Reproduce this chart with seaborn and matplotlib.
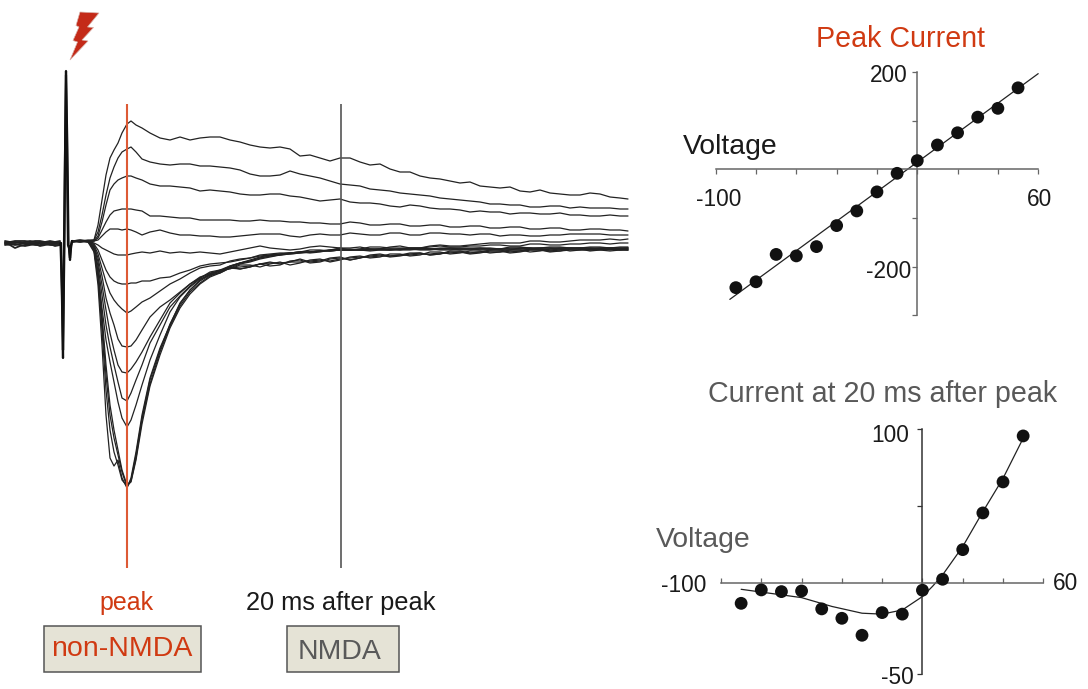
import numpy as np
import pandas as pd
import matplotlib
matplotlib.use("Agg")
import matplotlib.pyplot as plt
from matplotlib.patches import Polygon, Rectangle
import seaborn as sns

# ---- left panel: synaptic current traces (time in ms after stimulus, amplitude)
trace_time = [6,14,22, 28,32,36,40,44,48,52,56,61,65, 70,76,84,94,104,114,124,134,
              144,154,164,174,184,194,204,214,224,234,
              244,254,264,274,284,294,304,314,324,334,
              344,354,364,374,384,394,404,414,424,434,
              444,454,464,474,484,494,504,514,524,534,
              544,554,562]
trace_a = [241,240,241, 240,225,200,175,158,150,143,133,124,121, 125,128,133,138,140,137,140,138,
           137,137,140,142,145,147,148,147,149,156, 155,158,161,158,158,162,165,164,169,172,
           172,176,178,179,181,183,182,186,187,188, 187,191,192,190,193,194,195,195,193,194, 197,198,199]
trace_b = [241,241,240, 240,232,215,195,178,167,158,152,149,147, 152,159,162,164,165,164,164,166,
           166,167,168,170,174,176,176,175,171,174, 176,178,181,184,185,186,189,190,191,193,
           194,195,196,198,199,200,201,202,204,204, 205,205,207,207,206,206,208,207,208,208, 208,209,209]
trace_c = [241,242,241, 241,236,222,205,190,184,180,178,176,176, 178,180,184,186,186,187,188,191,
           190,191,192,194,195,195,194,194,196,197, 199,201,200,199,202,203,203,204,206,207,
           205,206,208,209,209,210,212,211,212,212, 214,213,213,214,214,213,215,215,216,216, 215,216,216]
trace_d = [242,241,241, 241,238,230,222,215,211,210,209,209,209, 210,211,216,216,217,218,218,220,
           220,220,220,221,221,220,221,221,222,222, 223,223,224,224,222,223,225,225,224,224,
           226,226,225,225,227,227,226,226,228,228, 227,227,229,229,228,228,230,230,229,229, 230,230,231]
trace_e = [241,241,242, 241,240,236,232,229,229,229,230,229,230, 232,235,232,230,233,235,235,236,
           236,237,237,236,235,234,234,234,236,237, 235,234,235,235,233,234,235,235,233,233,
           235,235,233,233,234,234,235,234,234,236, 235,235,236,236,235,235,234,234,234,234, 235,235,235]
trace_f = [241,242,241, 243,245,248,250,252,254,255,255,255,254, 253,252,253,251,253,252,253,252,
           253,254,252,250,248,246,248,249,250,249, 247,246,247,248,248,247,249,249,247,246,
           248,248,246,245,246,246,245,244,243,243, 243,243,241,241,242,242,241,240,240,240, 239,240,239]
trace_g = [241,241,241, 244,250,260,270,277,281,283,284,284,283, 283,281,281,278,277,273,270,266,
           264,263,262,260,258,256,255,254,253,252, 253,252,250,248,250,249,247,247,248,248,
           248,248,247,246,247,247,246,246,245,245, 246,246,244,244,245,245,244,244,243,243, 244,243,243]
trace_h = [242,241,241, 245,254,268,282,293,300,305,309,313,311, 307,302,298,291,284,279,273,268,
           266,265,261,259,258,255,254,253,253,252, 250,250,251,250,250,250,249,249,250,250,
           248,248,249,249,248,248,248,248,249,249, 247,247,248,248,247,247,248,248,247,247, 248,247,247]
trace_i = [241,241,242, 246,258,276,298,313,325,339,346,347,346, 340,330,317,307,300,292,284,278,
           273,271,268,267,266,264,263,263,262,262, 261,260,261,259,258,257,257,256,256,255,
           255,254,254,253,253,252,253,252,252,252, 251,251,250,250,251,251,250,250,250,250, 251,250,250]
trace_j = [241,242,241, 247,262,285,310,333,350,365,372,373,369, 362,352,337,320,303,293,284,277,
           274,271,267,269,267,264,266,265,261,260, 263,262,259,258,260,258,256,255,257,256,
           254,253,255,254,252,252,254,253,251,251, 253,252,250,250,252,251,249,249,251,250, 249,250,249]
trace_k = [242,241,241, 248,266,295,325,347,365,382,398,401,393, 380,365,343,325,307,296,286,278,
           272,270,269,265,265,267,264,262,265,263, 260,259,262,260,257,256,258,257,254,254,
           256,255,252,252,254,253,251,251,253,252, 250,250,252,251,249,249,251,250,249,249, 250,249,250]
trace_l = [241,241,241, 249,272,308,340,362,382,402,418,427,420, 405,385,360,335,312,297,287,279,
           275,273,268,269,267,264,262,264,262,259, 262,261,258,257,260,258,255,254,256,255,
           253,253,255,254,251,251,253,252,250,250, 252,251,249,249,251,250,248,248,250,249, 248,249,248]
trace_m = [241,241,242, 252,285,345,415,458,466,460,478,488,478, 452,415,378,348,325,303,290,280,
           274,270,266,263,260,257,255,254,253,252, 252,251,251,250,250,250,250,249,249,249,
           249,249,249,249,249,249,249,249,249,249, 248,248,248,248,248,248,248,248,248,248, 248,248,248]
trace_n = [241,240,241, 250,278,330,390,430,452,465,480,486,480, 455,418,380,350,324,304,290,281,
           275,271,266,263,261,258,256,255,254,253, 252,251,251,250,250,249,249,250,250,249,
           249,249,249,248,248,249,249,250,250,249, 249,249,249,248,248,249,249,248,248,249, 249,249,249]
trace_o = [242,241,241, 250,275,322,375,415,438,455,472,487,481, 458,420,384,352,326,306,292,283,
           276,272,267,263,261,258,256,255,253,252, 252,251,250,249,249,250,250,249,249,250,
           250,249,249,250,250,249,249,248,248,249, 249,249,249,249,249,248,248,249,249,248, 248,248,248]
trace_p = [241,241,241, 249,272,315,365,405,430,450,470,485,482, 460,424,386,355,328,308,294,284,
           277,273,268,264,262,259,257,255,254,253, 252,251,250,250,250,250,251,250,250,249,
           249,250,250,249,249,250,250,249,249,250, 250,248,248,250,250,249,249,249,249,249, 249,250,250]
all_traces = [trace_a, trace_b, trace_c, trace_d, trace_e, trace_f, trace_g, trace_h,
              trace_i, trace_j, trace_k, trace_l, trace_m, trace_n, trace_o, trace_p]

pre_time = [-61,-56,-51,-46,-41,-36,-31,-26,-21,-16,-11,-6]
pre_1 = [242,243,242,243,242,241,242,243,242,243,242,243]
pre_2 = [243,244,245,244,243,243,244,243,244,244,243,244]
pre_3 = [244,245,248,246,245,244,245,245,244,245,245,245]
pre_4 = [241,242,241,241,241,242,241,241,242,241,242,241]
pre_5 = [245,244,244,245,246,245,244,246,245,244,246,245]
pre_6 = [243,242,243,242,244,243,243,242,243,242,244,242]

artifact_time_1 = [-5,-4,-3,-2,-1,0,1,2,3,4,5,6]
artifact_1 = [243,300,358,245,160,71,160,245,248,260,248,241]
artifact_time_2 = [-5.5,-4,-3,-1.6,-0.9,0,1.4,2.5,3.2,4,4.6,6]
artifact_2 = [243,290,350,245,150,75,150,245,248,258,247,241]

# ---- right panels
voltage = [-90,-80,-70,-60,-50,-40,-30,-20,-10,0,10,20,30,40,50]
peak_current = [-242,-230,-174,-177,-158,-115,-85,-46,-8,18,50,75,107,125,167]
peak_fit_v = [-93,60]
peak_fit_i = [-266,196]
late_current = [-13,-4.3,-5.4,-5,-16.6,-22.7,-33.7,-19,-20,-4.5,2.6,21.8,45.6,65.7,95.5]
late_fit_v = [-90,-60,-45,-30,-20,-10,0,5,10,20,30,40,50]
late_fit_i = [-3.9,-9.3,-15,-19.4,-20,-17.3,-8.6,-2,5.4,23.8,46.4,68,94]

sns.set_theme(style="white")
plt.rcParams["font.family"] = ["Liberation Sans", "DejaVu Sans"]

W, H = 1088, 689
fig = plt.figure(figsize=(W / 100, H / 100), dpi=100, facecolor="white")
RED = "#D03A12"
GREY = "#595959"
INK = "#1a1a1a"


def fx(x):
    return x / W


def fy(y):
    return 1 - y / H


def label(x, y, s, size, color=INK, ha="center"):
    fig.text(fx(x), fy(y + 2), s, fontsize=size, color=color, ha=ha, va="center")


def axes_px(left, right, top, bottom):
    return fig.add_axes([fx(left), fy(bottom), fx(right - left), (bottom - top) / H])


# traces
ax = fig.add_axes([0, 0, 1, 1])
ax.set_xlim(-66, W - 66)
ax.set_ylim(H, 0)
ax.axis("off")
ax.patch.set_alpha(0)

df = pd.DataFrame(
    [(n, t, v) for n, tr in enumerate(all_traces) for t, v in zip(trace_time, tr)],
    columns=["trace", "time", "amp"],
)
sns.lineplot(data=df, x="time", y="amp", units="trace", estimator=None,
             color="#222222", lw=0.9, ax=ax, legend=False)
for pre in [pre_1, pre_2, pre_3, pre_4, pre_5, pre_6]:
    sns.lineplot(x=pre_time, y=pre, color="#222222", lw=1.3, ax=ax, estimator=None, sort=False)
sns.lineplot(x=artifact_time_1, y=artifact_1, color="#111111", lw=1.6, ax=ax, estimator=None, sort=False)
sns.lineplot(x=artifact_time_2, y=artifact_2, color="#111111", lw=1.6, ax=ax, estimator=None, sort=False)
ax.vlines(61, 104, 568, color="#DD5A35", lw=1.5, zorder=4)
ax.vlines(275, 104, 568, color="#555555", lw=1.2, zorder=4)
ax.set_xlim(-66, W - 66)
ax.set_ylim(H, 0)

# lightning bolt
bolt = [(80, 12), (99, 13), (87.5, 27), (93.5, 27.5), (82, 40), (88, 41), (70, 60),
        (77.5, 42), (73, 40.5), (79, 27), (76, 25.5)]
fig.add_artist(Polygon([(fx(a), fy(b)) for a, b in bolt], closed=True, transform=fig.transFigure,
                       facecolor="#C42A18", edgecolor="#D8B0A8", lw=0.5))

# labels and boxes under the traces
label(127, 601, "peak", 18, RED)
label(341, 601, "20 ms after peak", 18.3, INK)
for left, right in [(43.5, 200.5), (286.5, 398.5)]:
    fig.add_artist(Rectangle((fx(left), fy(671.5)), fx(right - left), (671.5 - 625.5) / H,
                             transform=fig.transFigure, facecolor="#E5E3D6", edgecolor="#555555", lw=1.1))
label(122, 647, "non-NMDA", 20.5, RED)
label(340, 650, "NMDA", 20.4, GREY)


def style_iv(a, color_x, color_y, x_dir, yticks):
    a.patch.set_alpha(0)
    for s in ["top", "right"]:
        a.spines[s].set_visible(False)
    a.spines["left"].set_position(("data", 0))
    a.spines["bottom"].set_position(("data", 0))
    a.spines["left"].set_color(color_y)
    a.spines["bottom"].set_color(color_x)
    a.spines["left"].set_linewidth(1.1)
    a.spines["bottom"].set_linewidth(1.1)
    a.set_xticks(range(-100, 61, 20))
    a.set_yticks(yticks)
    a.set_xticklabels([])
    a.set_yticklabels([])
    a.set_xlabel("")
    a.set_ylabel("")
    a.tick_params(axis="x", bottom=True, direction=x_dir, length=3.5, width=0.9, color=color_x)
    a.tick_params(axis="y", left=True, direction="out", length=3.5, width=0.9, color=color_y)


# peak current I-V
ax1 = axes_px(715.7, 1038.2, 71.7, 315)
sns.lineplot(x=peak_fit_v, y=peak_fit_i, color="#222222", lw=0.9, ax=ax1, clip_on=False)
sns.scatterplot(x=voltage, y=peak_current, color="#111111", s=85, edgecolor="none", ax=ax1,
                zorder=3, clip_on=False)
ax1.set_xlim(-100, 60)
ax1.set_ylim(-298, 200)
style_iv(ax1, "#666666", "#666666", "out", [-298, -200, -100, 100, 200])
label(900, 37, "Peak Current", 20.6, RED)
label(730, 145, "Voltage", 20.4, INK)
label(719, 197, "-100", 16.3)
label(1040, 197, "60", 16.3)
label(908, 74, "200", 16.3, ha="right")
label(911, 269, "-200", 16.3, ha="right")

# late current I-V
ax2 = axes_px(721, 1043.3, 429, 674.3)
sns.lineplot(x=late_fit_v, y=late_fit_i, color="#222222", lw=0.9, ax=ax2, clip_on=False)
sns.scatterplot(x=voltage, y=late_current, color="#111111", s=85, edgecolor="none", ax=ax2,
                zorder=3, clip_on=False)
ax2.set_xlim(-100, 60)
ax2.set_ylim(-59, 100)
style_iv(ax2, "#666666", "#333333", "in", [-59, 50, 100])
label(883, 392, "Current at 20 ms after peak", 20.6, GREY)
label(703, 538, "Voltage", 20.4, GREY)
label(684, 583, "-100", 16.3)
label(1066, 582, "60", 16.3)
label(909, 434, "100", 16.3, ha="right")
label(914, 675.5, "-50", 16.3, ha="right")

fig.savefig("out.png", dpi=100, facecolor="white")
